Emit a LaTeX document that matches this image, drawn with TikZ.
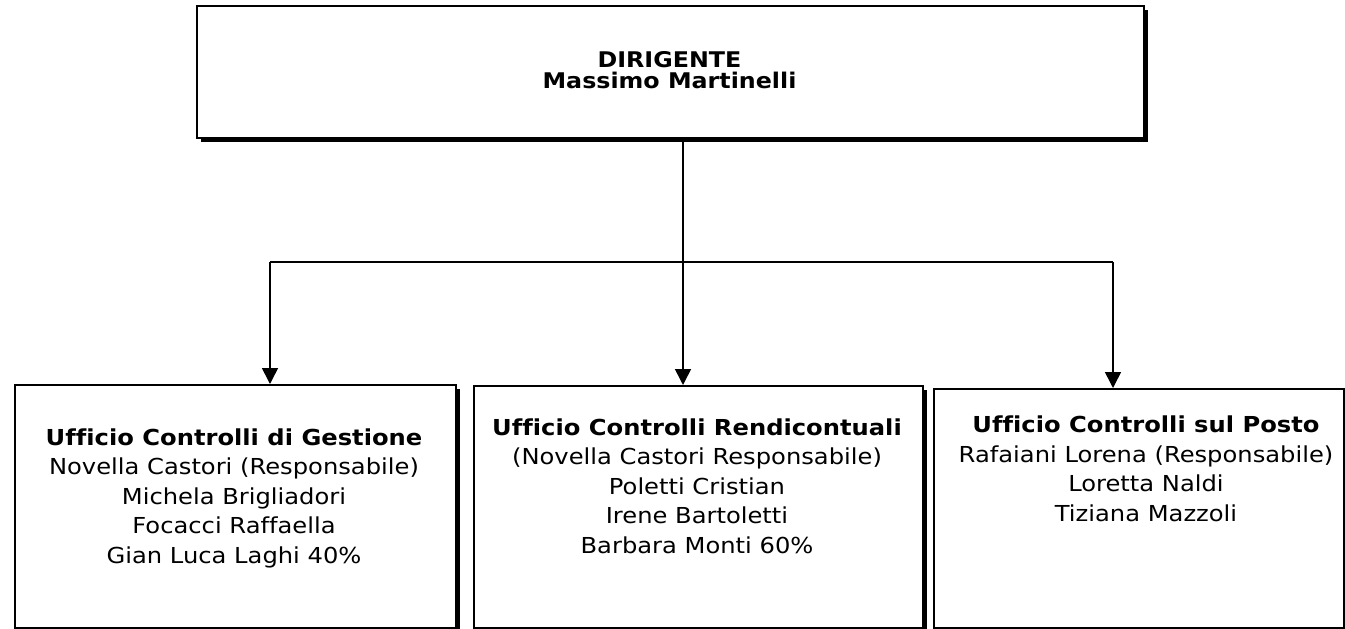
\documentclass[tikz,border=0pt]{standalone}
\usepackage{fontspec}
\setmainfont{DejaVu Sans}[FakeStretch=1.1, Ligatures={NoCommon}]
\usetikzlibrary{arrows.meta,shadows}
\begin{document}
\begin{tikzpicture}[x=1pt,y=-1pt,
  box/.style={draw, line width=1.7pt, fill=white, anchor=north west, inner sep=0pt,
    drop shadow={shadow xshift=4pt, shadow yshift=-4pt, fill=black, opacity=1}},
  txt/.style={anchor=base, align=center, inner sep=0pt, font=\fontsize{22}{29.5}\selectfont},
  conn/.style={line width=1.6pt},
  arr/.style={conn, -{Triangle[width=16pt,length=16pt]}}]
\useasboundingbox[fill=white] (0,0) rectangle (1345,629);
\node[box, minimum width=947pt, minimum height=132pt] (top) at (196,5) {};
\node[box, minimum width=441pt, minimum height=243pt] (b1) at (14,384) {};
\node[box, minimum width=449pt, minimum height=242pt] (b2) at (473,385) {};
\node[box, minimum width=410pt, minimum height=239pt] (b3) at (933,388) {};

% anchor=base of a multi-line node is the baseline of its last line
\node[txt, font=\fontsize{21.6}{21.5}\selectfont\bfseries] (toptxt) at (669.5,88.5) {DIRIGENTE\\Massimo Martinelli};
\node[txt] (t1) at (234,563) {\textbf{Ufficio Controlli di Gestione}\\Novella Castori (Responsabile)\\Michela Brigliadori\\Focacci Raffaella\\Gian Luca Laghi 40\%};
\node[txt] (t2) at (697,553) {\textbf{Ufficio Controlli Rendicontuali}\\(Novella Castori Responsabile)\\Poletti Cristian\\Irene Bartoletti\\Barbara Monti 60\%};
\node[txt] (t3) at (1146,521) {\textbf{Ufficio Controlli sul Posto}\\Rafaiani Lorena (Responsabile)\\Loretta Naldi\\Tiziana Mazzoli};

\coordinate (hl) at (270,262);
\coordinate (hr) at (1113,262);
\coordinate (mx) at (683,262);
\draw[conn] (hl) -- (hr);
\draw[arr] (hl) -- (hl |- b1.north);
\draw[arr] (hr) -- (hr |- b3.north);
\draw[arr] (top.south -| mx) -- (mx |- b2.north);
\end{tikzpicture}
\end{document}
